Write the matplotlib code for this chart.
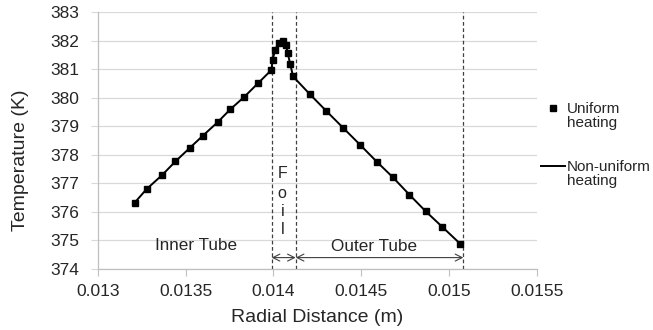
import matplotlib
matplotlib.use("Agg")
import numpy as np
import matplotlib.pyplot as plt
from matplotlib.lines import Line2D
from matplotlib.legend_handler import HandlerLine2D

plt.rcParams['font.family'] = ['Liberation Sans', 'DejaVu Sans']

# Radial distance (m) and temperature (K) - uniform heating (markers)
r_uniform = [0.013211, 0.013278, 0.013366, 0.013442, 0.013523, 0.013598, 0.013683,
             0.013755, 0.013835, 0.013912, 0.013989,
             0.013995, 0.014010, 0.014029, 0.014052, 0.014071, 0.014082, 0.014095, 0.014112,
             0.014207, 0.014301, 0.014395, 0.014494, 0.014590, 0.014679, 0.014773,
             0.014867, 0.014962, 0.015062]
t_uniform = [376.33, 376.80, 377.29, 377.77, 378.24, 378.67, 379.15,
             379.60, 380.04, 380.51, 380.98,
             381.33, 381.68, 381.94, 382.00, 381.86, 381.56, 381.20, 380.75,
             380.13, 379.54, 378.96, 378.35, 377.75, 377.22, 376.61,
             376.02, 375.47, 374.89]

# Non-uniform heating (line)
r_nonuniform = list(r_uniform)
t_nonuniform = list(t_uniform)

# Region boundaries (m)
foil_start = 0.013990
foil_end = 0.014127
outer_end = 0.015081

x_ticks = [0.013, 0.0135, 0.014, 0.0145, 0.015, 0.0155]
x_ticklabels = ["0.013", "0.0135", "0.014", "0.0145", "0.015", "0.0155"]
y_ticks = [374, 375, 376, 377, 378, 379, 380, 381, 382, 383]

W, H = 653, 330
L, R, T, B = 97.7, 537.0, 12.3, 269.0
fig = plt.figure(figsize=(W / 100, H / 100), dpi=100)
ax = fig.add_axes([L / W, 1 - B / H, (R - L) / W, (B - T) / H])

txt = '#262626'
grid_c = '#D9D9D9'
spine_c = '#BFBFBF'

ax.set_xlim(0.013, 0.0155)
ax.set_ylim(374, 383)
ax.set_xticks(x_ticks)
ax.set_xticklabels(x_ticklabels)
ax.set_yticks(y_ticks)
ax.tick_params(axis='both', labelsize=12.5, colors=txt, length=5, width=0.8)
ax.tick_params(axis='x', color=spine_c, pad=6)
ax.tick_params(axis='y', color=grid_c, pad=8)
ax.grid(axis='y', color=grid_c, linewidth=0.9)
ax.set_axisbelow(True)
for s in ['top', 'right']:
    ax.spines[s].set_visible(False)
for s in ['left', 'bottom']:
    ax.spines[s].set_color(spine_c)
    ax.spines[s].set_linewidth(0.9)

ax.set_xlabel("Radial Distance (m)", fontsize=14, color=txt)
ax.set_ylabel("Temperature (K)", fontsize=14, color=txt)
ax.xaxis.set_label_coords((317 - L) / (R - L), -(308.5 - B) / (B - T))
ax.yaxis.set_label_coords(-(L - 29) / (R - L), (B - 160) / (B - T))

# Vertical dashed boundaries
for xv in [foil_start, foil_end, outer_end]:
    ax.axvline(xv, color='#404040', linestyle=(0, (3, 2)), linewidth=0.9, zorder=2)

# Data
ax.plot(r_nonuniform, t_nonuniform, color='black', linewidth=1.4, zorder=3)
ax.plot(r_uniform, t_uniform, linestyle='none', marker='s', markersize=4.5,
        color='black', zorder=4)

# Arrows
arrow_y = 374.40
for a, b in [(foil_start, foil_end), (foil_end, outer_end)]:
    ax.annotate('', xy=(a, arrow_y), xytext=(b, arrow_y),
                arrowprops=dict(arrowstyle='<->,head_length=0.5,head_width=0.25',
                                color='#404040', lw=0.8, shrinkA=0, shrinkB=0))

# Region labels
ax.text(0.013560, 374.84, "Inner Tube", fontsize=12.3, color=txt, ha='center', va='center')
ax.text(0.014571, 374.78, "Outer Tube", fontsize=12.3, color=txt, ha='center', va='center')
for ch, ty in zip("Foil", [377.34, 376.63, 376.03, 375.40]):
    ax.text(0.014050, ty, ch, fontsize=11.5, color=txt, ha='center', va='center')


class HandlerUp(HandlerLine2D):
    """Align the legend handle with the first text line (Excel style)."""
    shift = 5.8  # points

    def create_artists(self, legend, orig_handle, xdescent, ydescent, width, height,
                       fontsize, trans):
        arts = super().create_artists(legend, orig_handle, xdescent, ydescent,
                                      width, height, fontsize, trans)
        for a in arts:
            a.set_ydata(np.asarray(a.get_ydata(), dtype=float) + self.shift)
        return arts


# Legend
handles = [Line2D([], [], linestyle='none', marker='s', markersize=4.5, color='black'),
           Line2D([], [], color='black', linewidth=1.4)]
leg = ax.legend(handles, ["Uniform\nheating", "Non-uniform\nheating"],
                loc='center left',
                bbox_to_anchor=((541 - L) / (R - L), (B - 145) / (B - T)),
                frameon=False, fontsize=11, handlelength=1.6, handletextpad=0.1,
                labelspacing=1.9, borderpad=0, borderaxespad=0,
                handler_map={Line2D: HandlerUp()})
for t in leg.get_texts():
    t.set_color(txt)
    t.set_linespacing(1.05)

fig.savefig("out.png", dpi=100)
